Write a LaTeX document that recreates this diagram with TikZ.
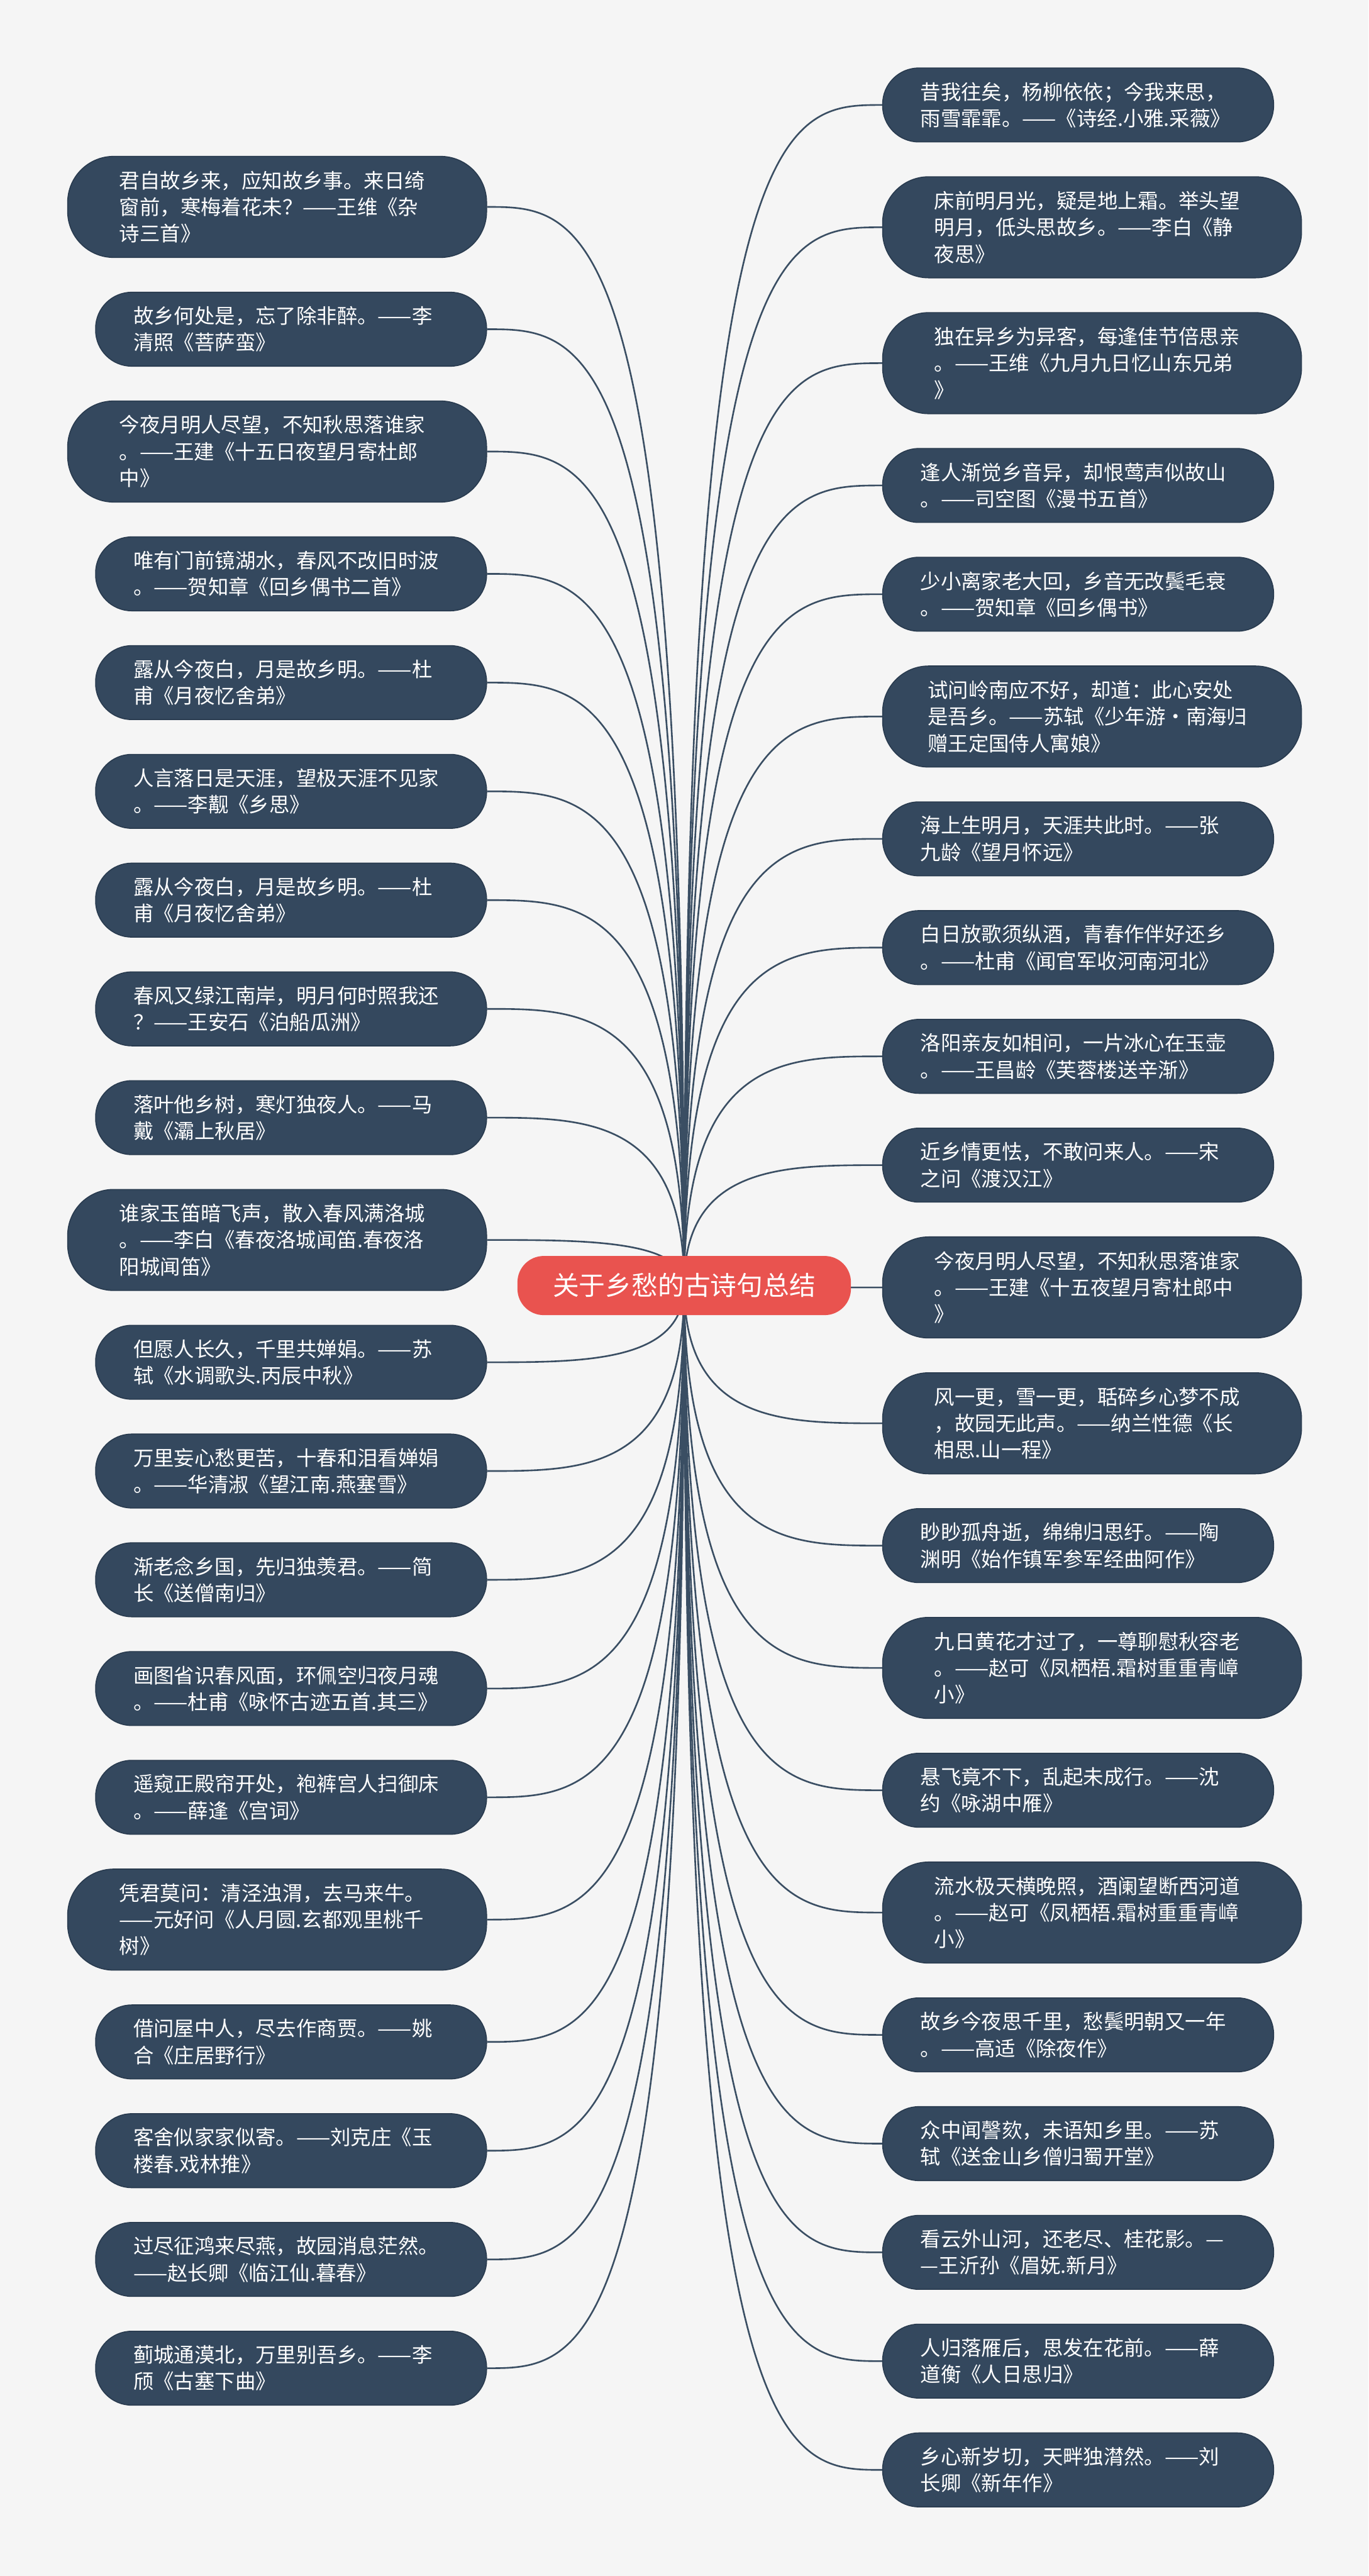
\documentclass[tikz,border=0pt]{standalone}
\usepackage{fontspec}
\setmainfont{Noto Sans CJK SC}
\usetikzlibrary{calc}
\definecolor{bgc}{RGB}{245,245,245}
\definecolor{boxc}{RGB}{52,72,94}
\definecolor{boxd}{RGB}{40,58,78}
\definecolor{linec}{RGB}{58,78,99}
\definecolor{rootc}{RGB}{233,83,79}
\newcommand\leaffont{\fontsize{12.4}{16.2}\selectfont}
\newcommand\rootfont{\fontsize{16}{18}\selectfont}
\tikzset{
  leaf/.style={fill=boxc, draw=boxd, line width=0.6pt, text=white, font=\leaffont,
    text width=192pt, align=left, inner sep=0pt},
  two/.style={leaf, minimum height=45pt, minimum width=238pt, rounded corners=22pt},
  three/.style={leaf, minimum height=61.5pt, minimum width=255pt, rounded corners=28pt},
  lft/.style={anchor=east},
  rgt/.style={anchor=west},
  root/.style={fill=rootc, text=white, font=\rootfont, minimum width=203pt,
    minimum height=36pt, rounded corners=16pt, inner sep=0pt},
  conn/.style={draw=linec, line width=1pt}
}
\begin{document}
\begin{tikzpicture}[x=1pt,y=-1pt]
\fill[bgc] (0,0) rectangle (833,1568);
\useasboundingbox (0,0) rectangle (833,1568);
\coordinate (cc) at (416.5,782.5);
% left column
\def\LX{296.5}
\node[three,lft] (L1) at (\LX,125.95) {君自故乡来，应知故乡事。来日绮\\窗前，寒梅着花未？——王维《杂\\诗三首》};
\node[two,lft] (L2) at (\LX,200.4) {故乡何处是，忘了除非醉。——李\\清照《菩萨蛮》};
\node[three,lft] (L3) at (\LX,274.85) {今夜月明人尽望，不知秋思落谁家\\。——王建《十五日夜望月寄杜郎\\中》};
\node[two,lft] (L4) at (\LX,349.3) {唯有门前镜湖水，春风不改旧时波\\。——贺知章《回乡偶书二首》};
\node[two,lft] (L5) at (\LX,415.5) {露从今夜白，月是故乡明。——杜\\甫《月夜忆舍弟》};
\node[two,lft] (L6) at (\LX,481.7) {人言落日是天涯，望极天涯不见家\\。——李觏《乡思》};
\node[two,lft] (L7) at (\LX,547.9) {露从今夜白，月是故乡明。——杜\\甫《月夜忆舍弟》};
\node[two,lft] (L8) at (\LX,614.1) {春风又绿江南岸，明月何时照我还\\？——王安石《泊船瓜洲》};
\node[two,lft] (L9) at (\LX,680.3) {落叶他乡树，寒灯独夜人。——马\\戴《灞上秋居》};
\node[three,lft] (L10) at (\LX,754.75) {谁家玉笛暗飞声，散入春风满洛城\\。——李白《春夜洛城闻笛.春夜洛\\阳城闻笛》};
\node[two,lft] (L11) at (\LX,829.2) {但愿人长久，千里共婵娟。——苏\\轼《水调歌头.丙辰中秋》};
\node[two,lft] (L12) at (\LX,895.4) {万里妄心愁更苦，十春和泪看婵娟\\。——华清淑《望江南.燕塞雪》};
\node[two,lft] (L13) at (\LX,961.6) {渐老念乡国，先归独羡君。——简\\长《送僧南归》};
\node[two,lft] (L14) at (\LX,1027.8) {画图省识春风面，环佩空归夜月魂\\。——杜甫《咏怀古迹五首.其三》};
\node[two,lft] (L15) at (\LX,1094.0) {遥窥正殿帘开处，袍裤宫人扫御床\\。——薛逢《宫词》};
\node[three,lft] (L16) at (\LX,1168.45) {凭君莫问：清泾浊渭，去马来牛。\\——元好问《人月圆.玄都观里桃千\\树》};
\node[two,lft] (L17) at (\LX,1242.9) {借问屋中人，尽去作商贾。——姚\\合《庄居野行》};
\node[two,lft] (L18) at (\LX,1309.1) {客舍似家家似寄。——刘克庄《玉\\楼春.戏林推》};
\node[two,lft] (L19) at (\LX,1375.3) {过尽征鸿来尽燕，故园消息茫然。\\——赵长卿《临江仙.暮春》};
\node[two,lft] (L20) at (\LX,1441.5) {蓟城通漠北，万里别吾乡。——李\\颀《古塞下曲》};
% right column
\def\RX{537}
\node[two,rgt] (R1) at (\RX,63.9) {昔我往矣，杨柳依依；今我来思，\\雨雪霏霏。——《诗经.小雅.采薇》};
\node[three,rgt] (R2) at (\RX,138.35) {床前明月光，疑是地上霜。举头望\\明月，低头思故乡。——李白《静\\夜思》};
\node[three,rgt] (R3) at (\RX,221.05) {独在异乡为异客，每逢佳节倍思亲\\。——王维《九月九日忆山东兄弟\\》};
\node[two,rgt] (R4) at (\RX,295.5) {逢人渐觉乡音异，却恨莺声似故山\\。——司空图《漫书五首》};
\node[two,rgt] (R5) at (\RX,361.7) {少小离家老大回，乡音无改鬓毛衰\\。——贺知章《回乡偶书》};
\node[three,rgt,text width=200pt] (R6) at (\RX,436.15) {试问岭南应不好，却道：此心安处\\是吾乡。——苏轼《少年游·南海归\\赠王定国侍人寓娘》};
\node[two,rgt] (R7) at (\RX,510.6) {海上生明月，天涯共此时。——张\\九龄《望月怀远》};
\node[two,rgt] (R8) at (\RX,576.8) {白日放歌须纵酒，青春作伴好还乡\\。——杜甫《闻官军收河南河北》};
\node[two,rgt] (R9) at (\RX,643.0) {洛阳亲友如相问，一片冰心在玉壶\\。——王昌龄《芙蓉楼送辛渐》};
\node[two,rgt] (R10) at (\RX,709.2) {近乡情更怯，不敢问来人。——宋\\之问《渡汉江》};
\node[three,rgt] (R11) at (\RX,783.65) {今夜月明人尽望，不知秋思落谁家\\。——王建《十五夜望月寄杜郎中\\》};
\node[three,rgt] (R12) at (\RX,866.35) {风一更，雪一更，聒碎乡心梦不成\\，故园无此声。——纳兰性德《长\\相思.山一程》};
\node[two,rgt] (R13) at (\RX,940.8) {眇眇孤舟逝，绵绵归思纡。——陶\\渊明《始作镇军参军经曲阿作》};
\node[three,rgt] (R14) at (\RX,1015.25) {九日黄花才过了，一尊聊慰秋容老\\。——赵可《凤栖梧.霜树重重青嶂\\小》};
\node[two,rgt] (R15) at (\RX,1089.7) {悬飞竟不下，乱起未成行。——沈\\约《咏湖中雁》};
\node[three,rgt] (R16) at (\RX,1164.15) {流水极天横晚照，酒阑望断西河道\\。——赵可《凤栖梧.霜树重重青嶂\\小》};
\node[two,rgt] (R17) at (\RX,1238.6) {故乡今夜思千里，愁鬓明朝又一年\\。——高适《除夜作》};
\node[two,rgt] (R18) at (\RX,1304.8) {众中闻謦欬，未语知乡里。——苏\\轼《送金山乡僧归蜀开堂》};
\node[two,rgt] (R19) at (\RX,1371.0) {看云外山河，还老尽、桂花影。—\\—王沂孙《眉妩.新月》};
\node[two,rgt] (R20) at (\RX,1437.2) {人归落雁后，思发在花前。——薛\\道衡《人日思归》};
\node[two,rgt] (R21) at (\RX,1503.4) {乡心新岁切，天畔独潸然。——刘\\长卿《新年作》};
% connectors
\foreach \n in {L1,L2,L3,L4,L5,L6,L7,L8,L9,L10,L11,L12,L13,L14,L15,L16,L17,L18,L19,L20}
  \draw[conn] (cc) .. controls (cc |- \n.east) and ($(cc |- \n.east)!0.5!(\n.east)$) .. (\n.east);
\foreach \n in {R1,R2,R3,R4,R5,R6,R7,R8,R9,R10,R11,R12,R13,R14,R15,R16,R17,R18,R19,R20,R21}
  \draw[conn] (cc) .. controls (cc |- \n.west) and ($(cc |- \n.west)!0.5!(\n.west)$) .. (\n.west);
\node[root] (c) at (cc) {关于乡愁的古诗句总结};
\end{tikzpicture}
\end{document}
